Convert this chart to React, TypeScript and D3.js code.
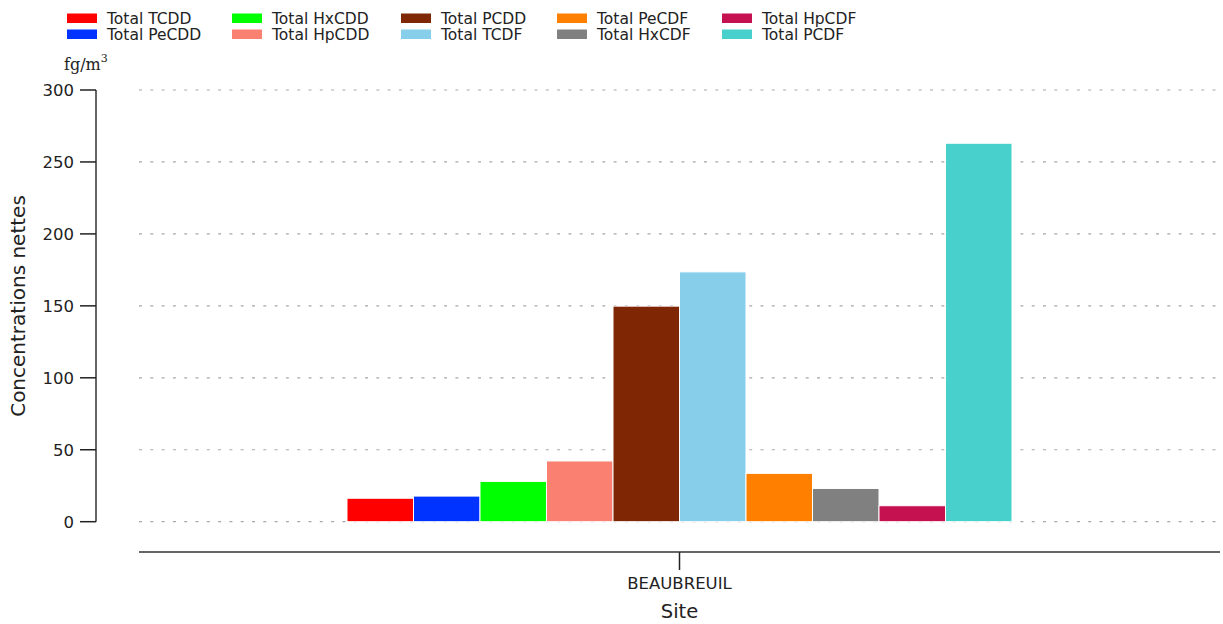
import React from "react";
import * as d3 from "d3";

const categories = ["BEAUBREUIL"];
const seriesNames = [
  "Total TCDD", "Total PeCDD", "Total HxCDD", "Total HpCDD", "Total PCDD",
  "Total TCDF", "Total PeCDF", "Total HxCDF", "Total HpCDF", "Total PCDF",
];
const seriesValues = [16.3, 17.8, 28.0, 42.2, 149.8, 173.6, 33.6, 23.1, 11.1, 263.0];
const seriesColors = [
  "#ff0000", "#0033ff", "#00ff00", "#fa8072", "#7f2704",
  "#87ceeb", "#ff7f00", "#808080", "#c51150", "#48d1cc",
];
const yTicks = [0, 50, 100, 150, 200, 250, 300];

export default function App() {
  const W = 1223, H = 624;
  const y = d3.scaleLinear().domain([0, 300]).range([521.7, 90]);
  const xOuter = d3.scaleBand().domain(categories).range([139, 1220]);
  const groupW = 665;
  const xInner = d3.scaleBand().domain(seriesNames).range([0, groupW]).padding(0);
  const font = "DejaVu Sans, sans-serif";
  const legendCols = [67, 232, 401, 557, 722];
  const legendRows = [18, 34];

  return (
    <svg width={W} height={H} style={{ position: "absolute", left: 0, top: 0, background: "#fff" }}>
      {seriesNames.map((s, i) => {
        const col = Math.floor(i / 2);
        const row = i % 2;
        const lx = legendCols[col];
        const ly = legendRows[row];
        return (
          <g key={s}>
            <rect x={lx} y={ly - 4.5} width={30} height={9.5} fill={seriesColors[i]} />
            <text x={lx + 40} y={ly + 5.5} fontFamily={font} fontSize={15.5} fill="#222">{s}</text>
          </g>
        );
      })}
      <text x={64} y={70} fontFamily="DejaVu Serif, serif" fontSize={16} fill="#222">
        fg/m<tspan dy={-8} fontSize={11}>3</tspan>
      </text>
      {yTicks.map((t) => (
        <line key={"g" + t} x1={139} x2={1220} y1={y(t)} y2={y(t)} stroke="#a8a8a8" strokeWidth={1.2} strokeDasharray="3,8.3" />
      ))}
      <line x1={96} x2={96} y1={y(300)} y2={y(0)} stroke="#333" strokeWidth={1.5} />
      {yTicks.map((t) => (
        <g key={"t" + t}>
          <line x1={80} x2={96} y1={y(t)} y2={y(t)} stroke="#222" strokeWidth={1.5} />
          <text x={74} y={y(t)} dy="0.36em" textAnchor="end" fontFamily={font} fontSize={16.5} fill="#222">{t}</text>
        </g>
      ))}
      <text transform={`translate(25,${306}) rotate(-90)`} textAnchor="middle" fontFamily={font} fontSize={20} fill="#222">
        Concentrations  nettes
      </text>
      {categories.map((c) => {
        const cx = (xOuter(c) as number) + xOuter.bandwidth() / 2;
        const x0 = cx - groupW / 2;
        return (
          <g key={c}>
            {seriesNames.map((s, i) => (
              <rect
                key={s}
                x={x0 + (xInner(s) as number)}
                y={y(seriesValues[i])}
                width={xInner.bandwidth()}
                height={y(0) - y(seriesValues[i])}
                fill={seriesColors[i]}
                stroke="#fff"
                strokeWidth={1}
              />
            ))}
            <line x1={cx} x2={cx} y1={552} y2={570} stroke="#222" strokeWidth={1.5} />
            <text x={cx} y={589} textAnchor="middle" fontFamily={font} fontSize={16.5} fill="#222">{c}</text>
          </g>
        );
      })}
      <line x1={139} x2={1220} y1={552} y2={552} stroke="#333" strokeWidth={1.5} />
      <text x={679.5} y={618} textAnchor="middle" fontFamily={font} fontSize={19.5} fill="#222">Site</text>
    </svg>
  );
}
